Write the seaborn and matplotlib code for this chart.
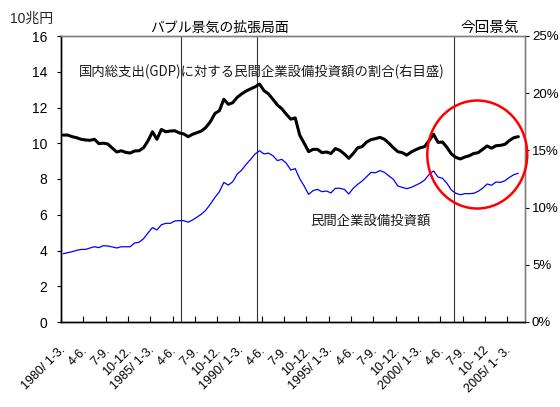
import numpy as np
import pandas as pd
import matplotlib
matplotlib.use("Agg")
import matplotlib.pyplot as plt
from matplotlib.patches import Ellipse
import seaborn as sns

sns.set_theme(style="white")
plt.rcParams["font.family"] = ["Liberation Sans", "Noto Sans CJK JP", "DejaVu Sans"]

# Quarterly series starting 1980 Jan-Mar
# private non-residential investment, in units of 10 trillion yen (left axis)
investment = [
    3.82, 3.88, 3.93, 4.01, 4.06, 4.06, 4.14, 4.21, 4.16, 4.27,
    4.25, 4.20, 4.14, 4.21, 4.21, 4.21, 4.42, 4.46, 4.66, 4.98,
    5.28, 5.15, 5.44, 5.52, 5.52, 5.65, 5.67, 5.67, 5.58, 5.71,
    5.87, 6.04, 6.27, 6.60, 6.97, 7.29, 7.81, 7.66, 7.85, 8.28,
    8.50, 8.82, 9.10, 9.40, 9.58, 9.40, 9.45, 9.30, 9.03, 9.10,
    8.88, 8.50, 8.58, 8.02, 7.61, 7.14, 7.35, 7.42, 7.29, 7.33,
    7.22, 7.48, 7.48, 7.42, 7.16, 7.48, 7.70, 7.89, 8.13, 8.37,
    8.35, 8.47, 8.37, 8.17, 7.98, 7.61, 7.53, 7.46, 7.53, 7.65,
    7.77, 7.94, 8.26, 8.45, 8.11, 8.04, 7.76, 7.38, 7.20, 7.12,
    7.18, 7.18, 7.20, 7.31, 7.48, 7.72, 7.65, 7.83, 7.81, 7.90,
    8.09, 8.24, 8.32,
]

# investment as a share of GDP, % (right axis)
ratio = [
    16.34, 16.34, 16.20, 16.11, 15.97, 15.91, 15.88, 15.97, 15.59, 15.63,
    15.56, 15.20, 14.86, 14.97, 14.83, 14.77, 14.95, 14.97, 15.23, 15.84,
    16.63, 15.97, 16.83, 16.63, 16.69, 16.72, 16.53, 16.44, 16.20, 16.41,
    16.55, 16.70, 17.02, 17.52, 18.23, 18.47, 19.47, 19.03, 19.17, 19.64,
    19.94, 20.19, 20.38, 20.56, 20.80, 20.22, 19.94, 19.47, 18.97, 18.64,
    18.16, 17.73, 17.84, 16.34, 15.63, 14.89, 15.09, 15.09, 14.80, 14.86,
    14.73, 15.16, 15.00, 14.69, 14.31, 14.73, 15.23, 15.33, 15.73, 15.94,
    16.03, 16.14, 15.97, 15.63, 15.23, 14.89, 14.80, 14.59, 14.86, 15.06,
    15.23, 15.33, 15.86, 16.41, 15.70, 15.73, 15.27, 14.69, 14.39, 14.25,
    14.42, 14.53, 14.73, 14.80, 15.09, 15.39, 15.19, 15.41, 15.44, 15.53,
    15.86, 16.11, 16.20,
]

n_quarters = 104          # 1980 Q1 .. 2005 Q4 on the category axis
label_step = 5
tick_labels = [
    "1980/ 1-3.", "4-6.", "7-9.", "10-12.",
    "1985/ 1-3.", "4-6.", "7-9.", "10-12.",
    "1990/ 1-3.", "4-6.", "7-9.", "10-12.",
    "1995/ 1-3.", "4-6.", "7-9.", "10-12.",
    "2000/ 1-3.", "4-6.", "7-9.", "10- 12",
    "2005/ 1- 3.",
]

# business-cycle markers (quarter index where the phase begins / ends)
bubble_start = 27    # 1986 Oct-Dec
bubble_end = 44      # 1991 Jan-Mar
current_start = 88   # 2002 Jan-Mar

df = pd.DataFrame({
    "quarter": np.arange(len(investment)),
    "investment": investment,
    "ratio": ratio,
})

W, H = 560, 407
fig = plt.figure(figsize=(W / 100, H / 100), dpi=100)
fig.patch.set_facecolor("white")
ax = fig.add_axes([61 / W, 1 - 322 / H, 464 / W, 286 / H])
ax.set_facecolor("white")

for q in (bubble_start, bubble_end, current_start):
    ax.axvline(q - 0.5, color="#333333", lw=0.8, zorder=1)

sns.lineplot(data=df, x="quarter", y="investment", ax=ax,
             color="#0000ff", lw=0.9, zorder=3)

ax2 = ax.twinx()
sns.lineplot(data=df, x="quarter", y="ratio", ax=ax2,
             color="black", lw=2.2, zorder=3)

ax.set_xlim(-0.5, n_quarters - 0.5)
ax.set_ylim(0, 16)
ax2.set_ylim(0, 25)
ax.set_xlabel("")
ax.set_ylabel("")
ax2.set_ylabel("")

ax.set_yticks(range(0, 17, 2))
ax2.set_yticks(range(0, 26, 5))
ax2.set_yticklabels([f"{v}%" for v in range(0, 26, 5)])

ax.set_xticks(np.arange(-0.5, n_quarters - 1, label_step))
ax.set_xticklabels([])
ax.set_xticks(np.arange(0, n_quarters, label_step), minor=True)
ax.set_xticklabels(tick_labels, minor=True)

ax.tick_params(axis="y", left=True, direction="out", length=3, width=0.8,
               labelsize=10, pad=7, colors="black")
ax2.tick_params(axis="y", right=True, direction="out", length=3, width=0.8,
                labelsize=9.5, pad=2, colors="black")
ax.tick_params(axis="x", which="major", bottom=True, direction="in",
               length=4, width=0.8, color="black")
ax.tick_params(axis="x", which="minor", bottom=True, length=0,
               labelsize=9, pad=19, labelcolor="black")
for lbl in ax.get_xticklabels(minor=True):
    lbl.set_rotation(45)
    lbl.set_ha("right")
    lbl.set_va("center")
    lbl.set_rotation_mode("anchor")

for a in (ax, ax2):
    for side in ("left", "bottom"):
        a.spines[side].set_color("black")
        a.spines[side].set_linewidth(1.0)
    for side in ("top", "right"):
        a.spines[side].set_color("#808080")
        a.spines[side].set_linewidth(1.0)

cjk = ["Noto Sans CJK JP", "DejaVu Sans"]
ax.text((bubble_start + bubble_end - 1) / 2, 16.05, "バブル景気の拡張局面",
        ha="center", va="bottom", fontsize=10, family=cjk, color="black")
ax.text((current_start - 0.5 + n_quarters - 0.5) / 2, 16.05, "今回景気",
        ha="center", va="bottom", fontsize=10.5, family=cjk, color="black")
ax.text(44.6, 14.0, "国内総支出(GDP)に対する民間企業設備投資額の割合(右目盛)",
        ha="center", va="center", fontsize=9.6, family=cjk, color="#1a1a1a")
ax.text(68.8, 5.65, "民間企業設備投資額",
        ha="center", va="center", fontsize=9.6, family=cjk, color="#1a1a1a")
fig.text(53 / W, 1 - 19 / H, "10兆円", ha="right", va="center",
         fontsize=10, family=["Liberation Sans", "Noto Sans CJK JP"])

ax2.add_patch(Ellipse((92.8, 14.64), 22.4, 9.44, fill=False,
                      ec="#ff0000", lw=1.8, clip_on=False, zorder=5))

fig.savefig("out.png", dpi=100, facecolor="white")
